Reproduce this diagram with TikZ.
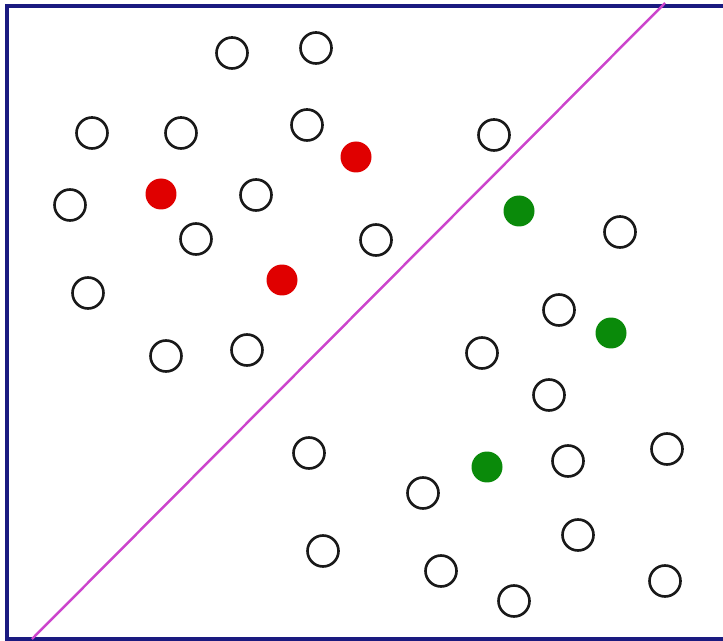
\documentclass[tikz,border=0pt]{standalone}
\usepackage{xcolor}
\usepackage{tikz}
\definecolor{frameblue}{HTML}{1A1A80}
\definecolor{sepline}{HTML}{CC44CC}
\definecolor{clsred}{HTML}{E00000}
\definecolor{clsgreen}{HTML}{0A8A0A}
\begin{document}
\begin{tikzpicture}[
  x=0.02cm, y=-0.02cm,
  pt/.style={circle, minimum size=0.62cm, inner sep=0pt},
  free/.style={pt, draw=black!90, line width=1.5pt, fill=white},
  redpt/.style={pt, fill=clsred, minimum size=0.62cm},
  greenpt/.style={pt, fill=clsgreen, minimum size=0.62cm}]

\useasboundingbox (0,0) rectangle (723,641);

% frame (right side runs off the picture)
\draw[frameblue, line width=2.2pt] (730,6) -- (7,6) -- (7,639) -- (730,639);

% separating line
\coordinate (lo) at (32,639);
\coordinate (hi) at (665,3);
\draw[sepline, line width=1.4pt] (lo) -- (hi);

% unlabelled points
\foreach \x/\y [count=\i] in {232/53, 316/48, 92/133, 181/133, 307/125,
    494/135, 70/205, 256/195, 196/239, 376/240, 620/232, 88/293,
    559/310, 166/356, 247/350, 482/353, 549/395, 309/453, 667/449,
    568/461, 423/493, 578/535, 323/551, 441/571, 665/581, 514/601}{
  \node[free] (o\i) at (\x,\y) {};}

% red class
\foreach \x/\y [count=\i] in {356/157, 161/194, 282/280}{
  \node[redpt] (r\i) at (\x,\y) {};}

% green class
\foreach \x/\y [count=\i] in {519/211, 611/333, 487/467}{
  \node[greenpt] (g\i) at (\x,\y) {};}
\end{tikzpicture}
\end{document}
